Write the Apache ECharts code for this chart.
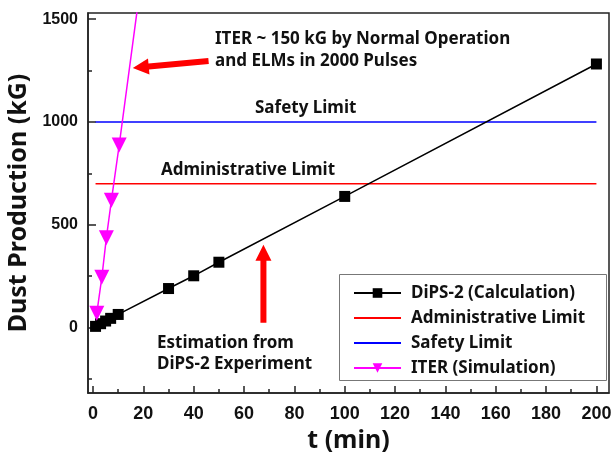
<!DOCTYPE html>
<html>
<head>
<meta charset="utf-8">
<script src="https://cdn.jsdelivr.net/npm/echarts@6/dist/echarts.min.js"></script>
<style>
  html, body { margin: 0; padding: 0; background: #fff; }
  #chart { width: 614px; height: 454px; }
</style>
</head>
<body>
<div id="chart"></div>
<script>
// DiPS-2 calculated dust production (t in min, mass in kG)
const dipsT = [1, 3, 5, 7, 10, 30, 40, 50, 100, 200];
const dipsV = [6, 19, 32, 45, 64, 190, 252, 318, 638, 1282];

// ITER simulation (normal operation + ELMs)
const iterT = [1.5, 3.5, 5.3, 7.3, 10.4, 20];
const iterV = [70, 245, 437, 619, 888, 1770];

// Horizontal limits
const limitT = [1, 200];
const adminLimit = 700;
const safetyLimit = 1000;

// Axis ticks
const xMajorTicks = [0, 20, 40, 60, 80, 100, 120, 140, 160, 180, 200];
const xMinorTicks = [10, 30, 50, 70, 90, 110, 130, 150, 170, 190];
const yMajorTicks = [0, 500, 1000, 1500];
const yMinorTicks = [-250, 250, 750, 1250];

// Annotation arrows: [tailT, tailV, tipT, tipV]
const arrows = [
  [45.9, 1297, 15.8, 1263],
  [67.7, 24, 67.7, 403]
];

const pair = (xs, ys) => xs.map((x, i) => [x, ys[i]]);

const FONT = '"Noto Sans", "Open Sans", sans-serif';
const NUMFONT = '"Liberation Sans", Arial, sans-serif';
const AXIS_COLOR = '#222';
const LABEL = { fontFamily: FONT, fontWeight: 'bold', fontSize: 17, fill: '#111' };

const chart = echarts.init(document.getElementById('chart'), null, { renderer: 'canvas' });

const option = {
  animation: false,
  backgroundColor: '#fff',
  grid: {
    left: 88, right: 5, top: 13, bottom: 61,
    containLabel: false, outerBoundsMode: 'none',
    show: true, borderColor: AXIS_COLOR, borderWidth: 1.5, backgroundColor: 'transparent'
  },
  xAxis: [
    {
      type: 'value', min: -2, max: 205, position: 'bottom',
      name: 't (min)', nameLocation: 'middle', nameGap: 34,
      nameTextStyle: { fontFamily: FONT, fontWeight: 'bold', fontSize: 25, color: '#111' },
      axisLine: { show: true, onZero: false, lineStyle: { color: AXIS_COLOR, width: 1.5 } },
      axisTick: { show: true, inside: true, length: 7, customValues: xMajorTicks, lineStyle: { color: AXIS_COLOR, width: 1.5 } },
      axisLabel: { customValues: xMajorTicks, fontFamily: NUMFONT, fontWeight: 'bold', fontSize: 18, color: '#111', margin: 12 },
      splitLine: { show: false }
    },
    {
      type: 'value', min: -2, max: 205, position: 'bottom', offset: 0,
      axisLine: { show: false, onZero: false },
      axisTick: { show: true, inside: true, length: 4, customValues: xMinorTicks, lineStyle: { color: AXIS_COLOR, width: 1.5 } },
      axisLabel: { show: false },
      splitLine: { show: false }
    }
  ],
  yAxis: [
    {
      type: 'value', min: -318, max: 1530, position: 'left',
      name: 'Dust Production (kG)', nameLocation: 'middle', nameGap: 53, nameRotate: 90,
      nameTextStyle: { fontFamily: FONT, fontWeight: 'bold', fontSize: 25, color: '#111' },
      axisLine: { show: true, onZero: false, lineStyle: { color: AXIS_COLOR, width: 1.5 } },
      axisTick: { show: true, inside: true, length: 8, customValues: yMajorTicks, lineStyle: { color: AXIS_COLOR, width: 1.5 } },
      axisLabel: { customValues: yMajorTicks, formatter: v => String(v), fontFamily: NUMFONT, fontWeight: 'bold', fontSize: 16, color: '#111', margin: 10 },
      splitLine: { show: false }
    },
    {
      type: 'value', min: -318, max: 1530, position: 'left', offset: 0,
      axisLine: { show: false, onZero: false },
      axisTick: { show: true, inside: true, length: 4, customValues: yMinorTicks, lineStyle: { color: AXIS_COLOR, width: 1.5 } },
      axisLabel: { show: false },
      splitLine: { show: false }
    }
  ],
  legend: {
    orient: 'vertical', left: 339, top: 274, z: 6,
    padding: [10, 10, 4, 14],
    itemWidth: 47, itemHeight: 12, itemGap: 7,
    borderWidth: 0,
    textStyle: { fontFamily: FONT, fontWeight: 'bold', fontSize: 17, color: '#111', lineHeight: 18, padding: [0, 0, 0, 5] },
    data: [
      { name: 'DiPS-2 (Calculation)' },
      { name: 'Administrative Limit', itemStyle: { opacity: 0 } },
      { name: 'Safety Limit', itemStyle: { opacity: 0 } },
      { name: 'ITER (Simulation)' }
    ]
  },
  graphic: [
    {
      type: 'rect', left: 339, top: 274, z: 5,
      shape: { width: 267, height: 106 },
      style: { fill: '#fff', stroke: '#777', lineWidth: 1 }
    },
    { type: 'text', left: 215, top: 31, style: Object.assign({ text: 'ITER ~ 150 kG by Normal Operation' }, LABEL) },
    { type: 'text', left: 215, top: 53, style: Object.assign({ text: 'and ELMs in 2000 Pulses' }, LABEL) },
    { type: 'text', left: 255, top: 100, style: Object.assign({ text: 'Safety Limit' }, LABEL) },
    { type: 'text', left: 161, top: 162, style: Object.assign({ text: 'Administrative Limit' }, LABEL) },
    { type: 'text', left: 157, top: 335, style: Object.assign({ text: 'Estimation from' }, LABEL) },
    { type: 'text', left: 157, top: 356, style: Object.assign({ text: 'DiPS-2 Experiment' }, LABEL) }
  ],
  series: [
    {
      name: 'Administrative Limit', type: 'line', symbol: 'none',
      data: limitT.map(t => [t, adminLimit]),
      lineStyle: { color: '#ff0000', width: 1.5 }, itemStyle: { color: '#ff0000' }, z: 2
    },
    {
      name: 'Safety Limit', type: 'line', symbol: 'none',
      data: limitT.map(t => [t, safetyLimit]),
      lineStyle: { color: '#0000ff', width: 1.5 }, itemStyle: { color: '#0000ff' }, z: 2
    },
    {
      name: 'DiPS-2 (Calculation)', type: 'line', symbol: 'rect', symbolSize: 11, showAllSymbol: true,
      data: pair(dipsT, dipsV),
      lineStyle: { color: '#000', width: 1.5 }, itemStyle: { color: '#000' }, z: 3
    },
    {
      name: 'ITER (Simulation)', type: 'line', symbol: 'triangle', symbolRotate: 180, symbolSize: 15, showAllSymbol: true,
      data: pair(iterT, iterV), clip: true,
      lineStyle: { color: '#ff00ff', width: 1.5 }, itemStyle: { color: '#ff00ff' }, z: 4
    },
    {
      name: 'arrows', type: 'custom', clip: false, silent: true, z: 5,
      encode: { x: [0, 2], y: [1, 3] },
      data: arrows,
      renderItem: function (params, api) {
        const p0 = api.coord([api.value(0), api.value(1)]);
        const p1 = api.coord([api.value(2), api.value(3)]);
        const dx = p1[0] - p0[0], dy = p1[1] - p0[1];
        const len = Math.sqrt(dx * dx + dy * dy);
        const ux = dx / len, uy = dy / len;
        const nx = -uy, ny = ux;
        const headLen = 16, headHalf = 8, shaftHalf = 3;
        const bx = p1[0] - ux * headLen, by = p1[1] - uy * headLen;
        const pts = [
          [p0[0] + nx * shaftHalf, p0[1] + ny * shaftHalf],
          [bx + nx * shaftHalf, by + ny * shaftHalf],
          [bx + nx * headHalf, by + ny * headHalf],
          [p1[0], p1[1]],
          [bx - nx * headHalf, by - ny * headHalf],
          [bx - nx * shaftHalf, by - ny * shaftHalf],
          [p0[0] - nx * shaftHalf, p0[1] - ny * shaftHalf]
        ];
        return { type: 'polygon', shape: { points: pts }, style: { fill: '#ff0000' } };
      }
    }
  ]
};

chart.setOption(option);
</script>
</body>
</html>
